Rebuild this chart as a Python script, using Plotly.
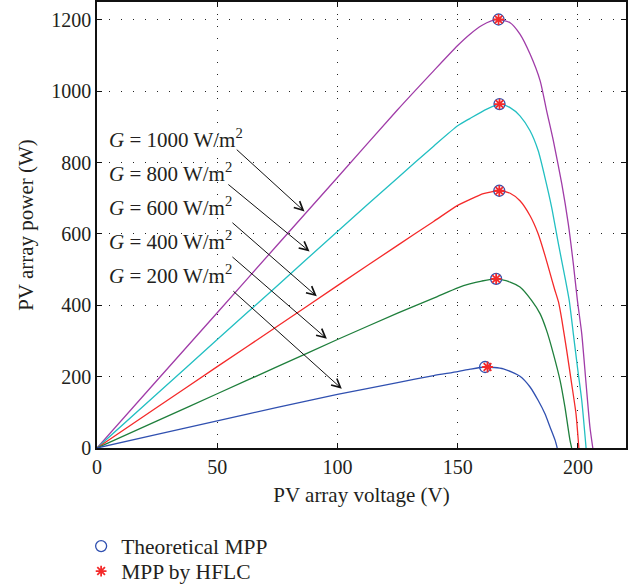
import plotly.graph_objects as go

# ---------------- data ----------------
v_1000 = [0, 25, 50, 75, 100, 125, 140, 150, 155, 160, 164, 167, 171.8, 175.9, 180.1,
          184.3, 187.0, 189.8, 193.3, 196.0, 198.1, 199.8, 201.6, 203.4, 205.0, 206.2]
p_1000 = [0, 190, 379, 569, 758, 948, 1057, 1128, 1159, 1184, 1197, 1201, 1192, 1160, 1104,
          1029, 945, 861, 740, 628, 516, 413, 320, 180, 59, 0]

v_800 = [0, 25, 50, 75, 100, 125, 140, 150, 155.2, 162.1, 167.6, 171.8, 175.9, 180.1, 183.5,
         186.3, 189.1, 191.9, 194.6, 196.4, 198.1, 199.8, 201.6, 203.4]
p_800 = [0, 152, 304, 455, 607, 757, 846, 903, 924, 950, 964, 954, 931, 889, 833,
         758, 674, 572, 479, 413, 320, 227, 133, 0]

v_600 = [0, 25, 50, 75, 100, 125, 140, 150, 155.2, 160.7, 167.3, 171.8, 175.9, 180.1, 183.5,
         186.3, 188.4, 190.3, 191.9, 193.3, 195.3, 197.4, 199.2, 200.4]
p_600 = [0, 114, 228, 341, 455, 568, 635, 680, 697, 713, 721, 714, 693, 651, 600,
         540, 490, 445, 410, 360, 275, 180, 96, 0]

v_400 = [0, 25, 50, 75, 100, 125, 140, 150, 155, 160, 166, 171.8, 175.9, 180.8, 184.3,
         187.0, 189.8, 192.6, 194.6, 196.7, 197.4]
p_400 = [0, 76, 152, 228, 304, 378, 420, 449, 460, 468, 474, 465, 451, 413, 376,
         329, 264, 189, 115, 22, 0]

v_200 = [0, 25, 50, 75, 100, 125, 140, 150, 155.2, 161.4, 169, 175.9, 180.1, 183.5,
         186.3, 188.4, 190.5, 191.4]
p_200 = [0, 38, 76, 114, 150, 183, 203, 214, 221, 227, 222, 201, 171, 133,
         96, 59, 22, 0]

mpp_theo_v = [167.0, 167.4, 167.3, 166.0, 161.4]
mpp_theo_p = [1201, 964, 721, 474, 227]
mpp_hflc_v = [167.0, 167.4, 167.3, 166.0, 162.4]
mpp_hflc_p = [1201, 964, 721, 474, 227]

labels = ["1000", "800", "600", "400", "200"]
label_x = [4.3, 4.3, 4.3, 4.3, 4.3]
label_y = [868, 773, 678, 582, 485]
arrow_start_v = [57.5, 54.0, 55.7, 55.7, 56.1]
arrow_start_p = [840, 742, 635, 539, 443]
arrow_end_v = [86.3, 88.4, 91.4, 95.6, 101.8]
arrow_end_p = [663, 551, 425, 306, 166]

x_ticks = [0, 50, 100, 150, 200]
y_ticks = [0, 200, 400, 600, 800, 1000, 1200]

# ---------------- figure ----------------
FONT = "Liberation Serif"
TXT = "#231f20"
curves = [
    (v_1000, p_1000, "#a03ca8"),
    (v_800, p_800, "#22bfc2"),
    (v_600, p_600, "#f42a2a"),
    (v_400, p_400, "#1f7f3c"),
    (v_200, p_200, "#3050b0"),
]

fig = go.Figure()
for vv, pp, col in curves:
    fig.add_trace(go.Scatter(x=vv, y=pp, mode="lines",
                             line=dict(color=col, width=1.3, shape="spline", smoothing=0.6),
                             showlegend=False, hoverinfo="skip"))

fig.add_trace(go.Scatter(x=mpp_theo_v, y=mpp_theo_p, mode="markers", name="Theoretical MPP",
                         legend="legend",
                         marker=dict(symbol="circle-open", size=11, color="#3050b0",
                                     line=dict(width=1.3, color="#3050b0"))))
fig.add_trace(go.Scatter(x=mpp_hflc_v, y=mpp_hflc_p, mode="markers", name="MPP by HFLC",
                         legend="legend2",
                         marker=dict(symbol="asterisk-open", size=9, color="#f42a2a",
                                     line=dict(width=1.8, color="#f42a2a"))))

annotations = []
for lab, lx, ly in zip(labels, label_x, label_y):
    annotations.append(dict(x=lx, y=ly, xref="x", yref="y", showarrow=False,
                            xanchor="left", yanchor="middle",
                            text="<i>G</i> = " + lab + " W/m<sup>2</sup>",
                            font=dict(family=FONT, size=21, color=TXT)))
for sv, sp, ev, ep in zip(arrow_start_v, arrow_start_p, arrow_end_v, arrow_end_p):
    annotations.append(dict(x=ev, y=ep, xref="x", yref="y", ax=sv, ay=sp,
                            axref="x", ayref="y", text="", showarrow=True,
                            arrowhead=5, arrowsize=1.7, arrowwidth=1.0,
                            arrowcolor="#111111", standoff=0, startstandoff=0))

axis_common = dict(showline=True, linecolor="#111111", linewidth=1.7, mirror="allticks",
                   ticks="inside", ticklen=5, tickwidth=1.3, tickcolor="#111111",
                   showgrid=True, gridcolor="#222222", gridwidth=1.1,
                   griddash="1.3px,10.7px", zeroline=False,
                   tickfont=dict(family=FONT, size=20, color=TXT))

legend_common = dict(x=-0.03, xanchor="left", yanchor="top",
                     bgcolor="rgba(0,0,0,0)", borderwidth=0, itemwidth=30,
                     font=dict(family=FONT, size=21.5, color=TXT))

fig.update_layout(
    width=635, height=588,
    margin=dict(l=97, r=9, t=2, b=140, autoexpand=False),
    paper_bgcolor="white", plot_bgcolor="white",
    font=dict(family=FONT, size=20, color=TXT),
    xaxis=dict(range=[0, 220], tickvals=x_ticks,
               title=dict(text="PV array voltage (V)", standoff=10,
                          font=dict(family=FONT, size=21, color=TXT)),
               **axis_common),
    yaxis=dict(range=[0, 1250], tickvals=y_ticks,
               title=dict(text="PV array power (W)", standoff=12,
                          font=dict(family=FONT, size=21, color=TXT)),
               **axis_common),
    legend=dict(y=-0.174, **legend_common),
    legend2=dict(y=-0.230, **legend_common),
    annotations=annotations,
    showlegend=True,
)

fig.write_html("out.html")
